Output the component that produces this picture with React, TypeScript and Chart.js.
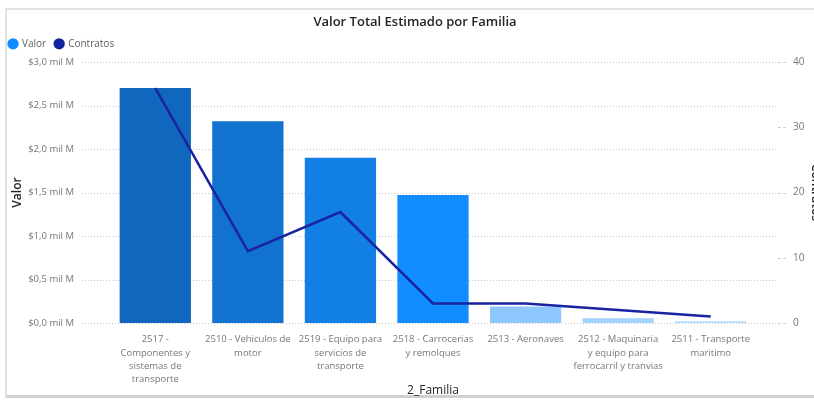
import React, { useEffect, useRef } from "react";
import { Chart, registerables } from "chart.js";

Chart.register(...registerables);

const categories: string[][] = [
  ["2517 -", "Componentes y", "sistemas de", "transporte"],
  ["2510 - Vehiculos de", "motor"],
  ["2519 - Equipo para", "servicios de", "transporte"],
  ["2518 - Carrocerias", "y remolques"],
  ["2513 - Aeronaves"],
  ["2512 - Maquinaria", "y equipo para", "ferrocarril y tranvias"],
  ["2511 - Transporte", "maritimo"],
];

// Valor in "mil M" (thousands of millions)
const valor: number[] = [2.7, 2.32, 1.9, 1.47, 0.19, 0.055, 0.02];
const contratos: number[] = [36, 11, 17, 3, 3, 2, 1];

const barColors: string[] = [
  "#1167BD",
  "#1272CF",
  "#127FE4",
  "#118DFF",
  "#8CC8FF",
  "#A4D3FF",
  "#B6DCFF",
];

const valorTicks: number[] = [0, 0.5, 1, 1.5, 2, 2.5, 3];
const contratosTicks: number[] = [0, 10, 20, 30, 40];

const FONT = "'Open Sans', 'Noto Sans', sans-serif";

const gridPlugin = {
  id: "pbiGrid",
  beforeDatasetsDraw(chart: any) {
    const ctx = chart.ctx;
    const y = chart.scales.y;
    const y1 = chart.scales.y1;
    ctx.save();
    ctx.strokeStyle = "#C8C8C8";
    ctx.lineWidth = 1;
    ctx.setLineDash([1, 2]);
    y.ticks.forEach((t: any) => {
      const py = Math.round(y.getPixelForValue(t.value)) + 0.5;
      ctx.beginPath();
      ctx.moveTo(82, py);
      ctx.lineTo(776, py);
      ctx.stroke();
    });
    ctx.setLineDash([3, 2]);
    ctx.strokeStyle = "#D0D0D0";
    y1.ticks.forEach((t: any) => {
      const py = Math.round(y1.getPixelForValue(t.value)) + 0.5;
      ctx.beginPath();
      ctx.moveTo(778, py);
      ctx.lineTo(787, py);
      ctx.stroke();
    });
    ctx.restore();
  },
};

export default function App() {
  const ref = useRef<HTMLCanvasElement | null>(null);

  useEffect(() => {
    if (!ref.current) return;
    const chart = new Chart(ref.current, {
      type: "bar",
      data: {
        labels: categories,
        datasets: [
          {
            type: "bar",
            label: "Valor",
            data: valor,
            backgroundColor: barColors,
            yAxisID: "y",
            order: 2,
            categoryPercentage: 1,
            barPercentage: 0.77,
          } as any,
          {
            type: "line",
            label: "Contratos",
            data: contratos,
            borderColor: "#1A23A0",
            backgroundColor: "#12239E",
            borderWidth: 2.5,
            pointRadius: 0,
            tension: 0,
            yAxisID: "y1",
            order: 1,
          } as any,
        ],
      },
      options: {
        responsive: false,
        animation: false,
        devicePixelRatio: 1,
        layout: { padding: { left: 0, right: 0, top: 0, bottom: 0 } },
        plugins: {
          title: {
            display: true,
            text: "Valor Total Estimado por Familia",
            color: "#252423",
            font: { family: FONT, size: 13, weight: "600" },
            padding: { top: 4, bottom: 0 },
          },
          subtitle: {
            display: true,
            text: "",
            font: { size: 1 },
            padding: { top: 0, bottom: 2 },
          },
          legend: {
            display: true,
            position: "top",
            align: "start",
            weight: 1600,
            labels: {
              usePointStyle: true,
              pointStyle: "circle",
              boxWidth: 8,
              boxHeight: 8,
              padding: 9,
              color: "#605E5C",
              font: { family: FONT, size: 10 },
              sort: (a: any, b: any) => a.datasetIndex - b.datasetIndex,
              generateLabels: () => [
                {
                  text: "Valor",
                  fillStyle: "#118DFF",
                  strokeStyle: "#118DFF",
                  lineWidth: 0,
                  pointStyle: "circle",
                  datasetIndex: 0,
                  fontColor: "#605E5C",
                },
                {
                  text: "Contratos",
                  fillStyle: "#12239E",
                  strokeStyle: "#12239E",
                  lineWidth: 0,
                  pointStyle: "circle",
                  datasetIndex: 1,
                  fontColor: "#605E5C",
                },
              ],
            },
          },
          tooltip: { enabled: false },
        },
        scales: {
          x: {
            type: "category",
            offset: true,
            grid: { display: false, drawTicks: false },
            border: { display: false },
            ticks: {
              autoSkip: false,
              maxRotation: 0,
              minRotation: 0,
              padding: 10,
              color: "#777777",
              font: { family: FONT, size: 9.5, lineHeight: 1.4 },
            },
            title: {
              display: true,
              text: "2_Familia",
              color: "#252423",
              font: { family: FONT, size: 12 },
              padding: { top: 0, bottom: 2 },
            },
            afterFit: (s: any) => {
              s.height = 77;
            },
          },
          y: {
            type: "linear",
            position: "left",
            min: 0,
            max: 3,
            afterBuildTicks: (s: any) => {
              s.ticks = valorTicks.map((v) => ({ value: v }));
            },
            grid: { display: false, drawTicks: false },
            border: { display: false },
            ticks: {
              padding: 35,
              color: "#777777",
              font: { family: FONT, size: 9.5 },
              callback: (v: any) => "$" + Number(v).toFixed(1).replace(".", ",") + " mil M",
            },
            title: {
              display: true,
              text: "Valor",
              color: "#252423",
              font: { family: FONT, size: 12, weight: "600" },
              padding: { top: 10, bottom: 0 },
            },
            afterFit: (s: any) => {
              s.width = 109;
              s.paddingTop = 62;
            },
          },
          y1: {
            type: "linear",
            position: "right",
            min: 0,
            max: 40,
            afterBuildTicks: (s: any) => {
              s.ticks = contratosTicks.map((v) => ({ value: v }));
            },
            grid: { display: false, drawTicks: false },
            border: { display: false },
            ticks: {
              padding: 36,
              color: "#777777",
              font: { family: FONT, size: 10 },
            },
            title: {
              display: true,
              text: "Contratos",
              color: "#252423",
              font: { family: FONT, size: 12, weight: "600" },
              padding: { top: 7, bottom: 0 },
            },
            afterFit: (s: any) => {
              s.width = 73;
            },
          },
        },
      } as any,
      plugins: [gridPlugin],
    });
    return () => chart.destroy();
  }, []);

  return (
    <div
      style={{
        position: "fixed",
        left: 0,
        top: 0,
        width: 814,
        height: 402,
        overflow: "hidden",
        background: "#fff",
      }}
    >
      <div
        style={{
          position: "absolute",
          left: 5,
          top: 8,
          width: 860,
          height: 390,
          borderTop: "2px solid #E3E3E3",
          borderLeft: "2px solid #E3E3E3",
          borderBottom: "3px solid #CFCFCF",
          boxSizing: "border-box",
        }}
      />
      <canvas
        ref={ref}
        width={830}
        height={400}
        style={{ position: "absolute", left: 0, top: 0, display: "block" }}
      />
    </div>
  );
}
